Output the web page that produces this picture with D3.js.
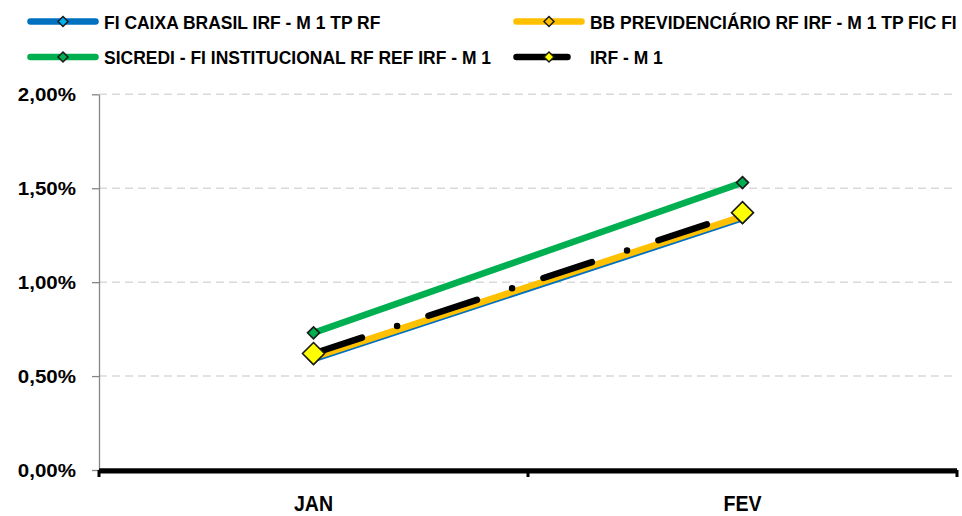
<!DOCTYPE html>
<html>
<head>
<meta charset="utf-8">
<script src="https://cdn.jsdelivr.net/npm/d3@7"></script>
<style>
  html, body { margin: 0; padding: 0; background: #fff; }
  svg { display: block; font-family: 'Liberation Sans', Arial, sans-serif; font-weight: bold; }
</style>
</head>
<body>
<div id="chart"></div>
<script>
const months = ['JAN', 'FEV'];
const yTicks = [0, 0.5, 1, 1.5, 2];

// rentabilidade mensal em %
const caixa = [0.59, 1.34];
const bb = [0.60, 1.35];
const sicredi = [0.73, 1.53];
const irfm1 = [0.62, 1.37];

const seriesNames = [
  'FI CAIXA BRASIL IRF - M 1 TP RF',
  'BB PREVIDENCIÁRIO RF IRF - M 1 TP FIC FI',
  'SICREDI - FI INSTITUCIONAL RF REF IRF - M 1',
  'IRF - M 1'
];

const w = 962, h = 516;
const plotLeft = 99, plotRight = 957, plotTop = 94.3, plotBottom = 470;

const series = [
  { name: seriesNames[0], values: caixa,   col: '#0070c0', mFill: '#00b0f0', r: 5,   dash: null },
  { name: seriesNames[1], values: bb,      col: '#ffc000', mFill: '#ffc000', r: 5,   dash: null },
  { name: seriesNames[2], values: sicredi, col: '#00b050', mFill: '#00b050', r: 6,   dash: null },
  { name: seriesNames[3], values: irfm1,   col: '#000000', mFill: '#ffff00', r: 11,  dash: '51,37,0,33' }
];

const fmt = v => v.toFixed(2).replace('.', ',') + '%';

const svg = d3.select('#chart').append('svg')
  .attr('width', w)
  .attr('height', h);

const x = d3.scaleBand().domain(months).range([plotLeft, plotRight]).padding(0);
const y = d3.scaleLinear().domain([0, 2]).range([plotBottom, plotTop]);

// grid
svg.append('g')
  .selectAll('line')
  .data(yTicks.filter(d => d > 0))
  .join('line')
  .attr('x1', plotLeft)
  .attr('x2', plotRight)
  .attr('y1', d => y(d))
  .attr('y2', d => y(d))
  .attr('stroke', '#d9d9d9')
  .attr('stroke-width', 1.5)
  .attr('stroke-dasharray', '8,5');

// y axis
const yAxis = svg.append('g')
  .attr('transform', `translate(${plotLeft},0)`)
  .call(d3.axisLeft(y).tickValues(yTicks).tickFormat(fmt).tickSizeInner(7).tickSizeOuter(0).tickPadding(16));
yAxis.select('.domain').attr('stroke', '#868686').attr('stroke-width', 1.3);
yAxis.selectAll('.tick line').attr('stroke', '#868686').attr('stroke-width', 1.3);
yAxis.selectAll('.tick text')
  .attr('fill', '#000')
  .style('font-size', '18px')
  .style('font-family', 'Liberation Sans, Arial, sans-serif')
  .style('font-weight', 'bold')
  .attr('dy', '0.36em')
  .each(function () {
    const len = this.getComputedTextLength();
    d3.select(this).attr('textLength', len * 1.14).attr('lengthAdjust', 'spacingAndGlyphs');
  });

// x axis
svg.append('line')
  .attr('x1', plotLeft).attr('x2', plotRight)
  .attr('y1', plotBottom - 1.5).attr('y2', plotBottom - 1.5)
  .attr('stroke', '#868686').attr('stroke-width', 1);

const xTickPos = months.map(m => x(m)).concat([x.range()[1]]);
svg.append('g')
  .selectAll('line')
  .data(xTickPos)
  .join('line')
  .attr('x1', d => d).attr('x2', d => d)
  .attr('y1', plotBottom).attr('y2', plotBottom + 7)
  .attr('stroke', '#000').attr('stroke-width', 3);

svg.append('line')
  .attr('x1', plotLeft).attr('x2', plotRight)
  .attr('y1', plotBottom + 1).attr('y2', plotBottom + 1)
  .attr('stroke', '#000').attr('stroke-width', 5);

svg.append('g')
  .selectAll('text')
  .data(months)
  .join('text')
  .attr('transform', d => `translate(${x(d) + x.bandwidth() / 2},511) scale(0.89,1)`)
  .attr('text-anchor', 'middle')
  .style('font-size', '22px')
  .text(d => d);

// lines
const cx = d => x(d) + x.bandwidth() / 2;
const line = d3.line()
  .x((d, i) => cx(months[i]))
  .y(d => y(d));

const diamond = r => `M0,${-r}L${r},0L0,${r}L${-r},0Z`;

svg.append('g')
  .selectAll('path')
  .data(series)
  .join('path')
  .attr('d', d => line(d.values))
  .attr('fill', 'none')
  .attr('stroke', d => d.col)
  .attr('stroke-width', 6.5)
  .attr('stroke-linecap', 'round')
  .attr('stroke-dasharray', d => d.dash);

// markers
series.forEach(s => {
  svg.append('g')
    .selectAll('path')
    .data(s.values)
    .join('path')
    .attr('transform', (d, i) => `translate(${cx(months[i])},${y(d)})`)
    .attr('d', diamond(s.r))
    .attr('fill', s.mFill)
    .attr('stroke', '#1a1a1a')
    .attr('stroke-width', 1.6);
});

// legend
const legendPos = [
  { lx: 27, ly: 21.5 },
  { lx: 513, ly: 21.5 },
  { lx: 27, ly: 57 },
  { lx: 513, ly: 57 }
];

const legend = svg.append('g')
  .selectAll('g')
  .data(series)
  .join('g')
  .attr('transform', (d, i) => `translate(${legendPos[i].lx},${legendPos[i].ly})`);

legend.append('line')
  .attr('x1', 3.5).attr('x2', 68.5)
  .attr('y1', 0).attr('y2', 0)
  .attr('stroke', d => d.col)
  .attr('stroke-width', 6.5)
  .attr('stroke-linecap', 'round')
  .attr('stroke-dasharray', d => d.dash);

legend.append('path')
  .attr('transform', 'translate(36,0)')
  .attr('d', diamond(5))
  .attr('fill', d => d.mFill)
  .attr('stroke', '#1a1a1a')
  .attr('stroke-width', 1.5);

legend.append('text')
  .attr('transform', 'translate(77,7) scale(0.92,1)')
  .style('font-size', '19px')
  .text(d => d.name);
</script>
</body>
</html>
